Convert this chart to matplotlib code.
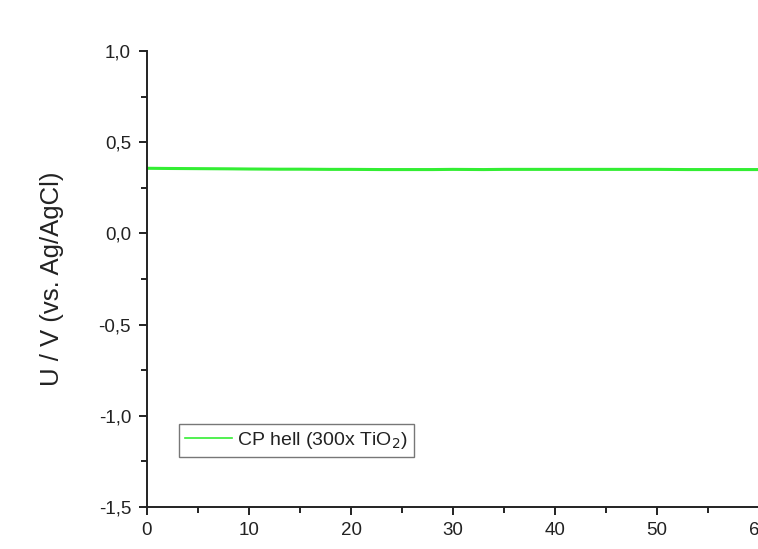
import matplotlib.pyplot as plt
from matplotlib.ticker import MultipleLocator, FuncFormatter

plt.rcParams['font.family'] = ['Liberation Sans', 'DejaVu Sans']

# time in min, potential in V vs. Ag/AgCl
time = [0, 2, 5, 8, 10, 13, 15, 18, 20, 23, 25, 28, 30, 33, 35, 38, 40,
        43, 45, 48, 50, 53, 55, 58, 60, 63, 65, 68, 70]
potential = [0.357, 0.356, 0.355, 0.354, 0.353, 0.352, 0.352, 0.351, 0.351,
             0.350, 0.350, 0.350, 0.351, 0.350, 0.351, 0.351, 0.351, 0.351,
             0.351, 0.351, 0.351, 0.350, 0.350, 0.350, 0.350, 0.350, 0.350,
             0.350, 0.350]
label = "CP hell (300x TiO$_2$)"

W, H = 758, 549
fig = plt.figure(figsize=(W / 100, H / 100), dpi=100)
x0, x1 = 147, 147 + 714
y0, y1 = 507, 51
ax = fig.add_axes([x0 / W, (H - y0) / H, (x1 - x0) / W, (y0 - y1) / H])

ax.plot(time, potential, color="#33ee33", lw=2.2, label=label)
ax.set_xlim(0, 70)
ax.set_ylim(-1.5, 1.0)

ax.spines["top"].set_visible(False)
ax.spines["right"].set_visible(False)
for s in ("left", "bottom"):
    ax.spines[s].set_linewidth(1.4)
    ax.spines[s].set_color("#222222")

ax.xaxis.set_major_locator(MultipleLocator(10))
ax.xaxis.set_minor_locator(MultipleLocator(5))
ax.yaxis.set_major_locator(MultipleLocator(0.5))
ax.yaxis.set_minor_locator(MultipleLocator(0.25))
ax.yaxis.set_major_formatter(FuncFormatter(lambda v, p: f"{v:.1f}".replace(".", ",")))
ax.tick_params(which="major", direction="out", length=6, width=1.4, labelsize=13.5,
               colors="#222222", labelcolor="#222222")
ax.tick_params(which="minor", direction="out", length=4, width=1.4, colors="#222222")
ax.tick_params(axis="x", pad=5)
ax.tick_params(axis="y", pad=5.5)

ax.set_ylabel("U / V (vs. Ag/AgCl)", fontsize=18.5, labelpad=25, color="#222222")

leg = ax.legend(loc="upper left", bbox_to_anchor=((179 - x0) / (x1 - x0), (y0 - 424) / (y0 - y1)),
                fontsize=14, frameon=True, fancybox=False, handlelength=2.4,
                borderaxespad=0, borderpad=0.3, handletextpad=0.3)
leg.get_frame().set_edgecolor("#555555")
leg.get_frame().set_linewidth(1.0)
for t in leg.get_texts():
    t.set_color("#222222")
for h in leg.get_lines():
    h.set_linewidth(1.2)

fig.savefig("out.png", dpi=100)
